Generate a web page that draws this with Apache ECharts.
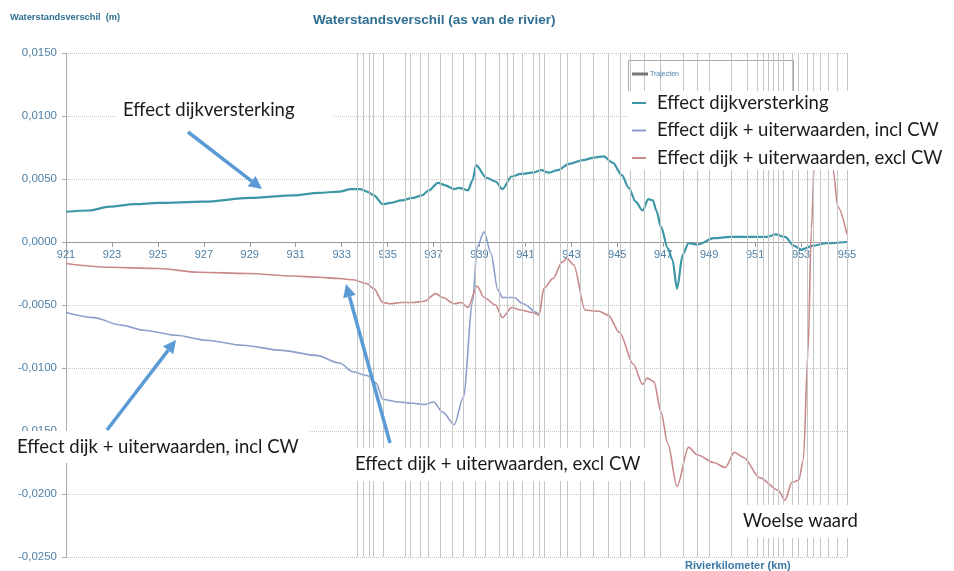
<!DOCTYPE html>
<html>
<head>
<meta charset="utf-8">
<script src="https://cdn.jsdelivr.net/npm/echarts@6/dist/echarts.min.js"></script>
<style>
  html, body { margin: 0; padding: 0; background: #fff; }
  #chart { width: 954px; height: 571px; }
</style>
</head>
<body>
<div id="chart"></div>
<script>
// x-as labels (rivierkilometer) en y-as labels
const xTicks = [921, 923, 925, 927, 929, 931, 933, 935, 937, 939, 941, 943, 945, 947, 949, 951, 953, 955];
const yTicks = [-0.025, -0.02, -0.015, -0.01, -0.005, 0, 0.005, 0.01, 0.015];

// grenzen van de trajecten (verticale lijnen)
const trajectKm = [933.67, 933.93, 934.19, 934.37, 934.8, 935.76, 935.98, 936.41, 936.76, 937.28,
  937.8, 938.28, 938.81, 939.24, 939.85, 940.2, 940.46, 940.85, 941.33, 941.59, 941.81, 942.51,
  942.81, 943.38, 943.94, 944.6, 945.12, 945.55, 946.16, 946.86, 947.86, 948.47, 948.99, 949.95,
  950.65, 951.08, 951.34, 951.56, 951.78, 952.0, 952.21, 952.61, 952.87, 953.26, 953.52, 953.83,
  954.17, 954.57, 955.0];

// Effect dijkversterking
const dijkKm = [921, 922, 922.9, 924, 925, 927, 929, 930.9, 932, 932.9, 933.4, 933.8, 934.1, 934.4,
  934.8, 935.1, 935.6, 936.1, 936.5, 936.8, 937.2, 937.5, 937.9, 938.1, 938.5, 938.7, 938.85, 939.3,
  939.7, 940, 940.4, 940.8, 941.3, 941.7, 942, 942.4, 942.9, 943.5, 944, 944.4, 944.8, 945.2, 945.5,
  945.8, 946.1, 946.35, 946.55, 946.7, 946.9, 947.2, 947.4, 947.6, 947.85, 948.1, 948.5, 949.2,
  949.9, 950.9, 951.5, 951.9, 952.3, 952.7, 953, 953.5, 954.1, 955];
const dijkVal = [0.0024, 0.0025, 0.0028, 0.0030, 0.0031, 0.0032, 0.0035, 0.0037, 0.0039, 0.0040,
  0.0042, 0.0042, 0.0040, 0.0037, 0.0030, 0.0031, 0.0033, 0.0035, 0.0037, 0.0041, 0.0047, 0.0045,
  0.0042, 0.0043, 0.0041, 0.0049, 0.0061, 0.0051, 0.0048, 0.0042, 0.0052, 0.0054, 0.0055, 0.0057,
  0.0055, 0.0057, 0.0062, 0.0065, 0.0067, 0.0068, 0.0063, 0.0053, 0.0043, 0.0032, 0.0025, 0.0034,
  0.0033, 0.0025, 0.0012, -0.0005, -0.0014, -0.0037, -0.0010, -0.0001, -0.0002, 0.0003, 0.0004,
  0.0004, 0.0004, 0.0006, 0.0004, -0.0003, -0.0006, -0.0003, -0.0001, 0.0000];

// Effect dijk + uiterwaarden, incl CW
const inclKm = [921, 922.2, 923.4, 924.4, 925.8, 927.1, 928.7, 930.4, 931.9, 932.9, 933.5, 934.1,
  934.5, 934.8, 935.5, 936.1, 936.6, 937, 937.4, 937.9, 938.3, 938.7, 938.9, 939.2, 939.5, 939.8,
  940, 940.5, 940.9, 941.5, 941.6];
const inclVal = [-0.0056, -0.0060, -0.0066, -0.0070, -0.0074, -0.0078, -0.0082, -0.0086, -0.0090,
  -0.0096, -0.0103, -0.0106, -0.0112, -0.0125, -0.0127, -0.0128, -0.0129, -0.0127, -0.0135, -0.0145,
  -0.0123, -0.0048, -0.0004, 0.0008, -0.0009, -0.0038, -0.0044, -0.0044, -0.0049, -0.0056, -0.0058];

// Effect dijk + uiterwaarden, excl CW
const exclKm = [921, 922.9, 925, 926.8, 928.9, 930.9, 932, 932.9, 933.5, 934.1, 934.4, 934.8, 935.1,
  935.6, 936.1, 936.6, 937.1, 937.4, 937.9, 938.2, 938.5, 938.9, 939.2, 939.7, 940, 940.4, 940.8,
  941.3, 941.6, 941.8, 942.2, 942.6, 942.8, 943.1, 943.6, 944.2, 944.6, 945.1, 945.7, 946.1, 946.3,
  946.6, 946.9, 947.2, 947.6, 948.1, 948.5, 949.2, 949.7, 950.1, 950.5, 951.2, 952, 952.3, 952.6,
  952.9, 953.1, 953.3, 953.45, 953.6, 953.85, 954.15, 954.4, 954.6, 955];
const exclVal = [-0.0017, -0.0020, -0.0021, -0.0024, -0.0025, -0.0027, -0.0028, -0.0029, -0.0030,
  -0.0033, -0.0037, -0.0048, -0.0049, -0.0048, -0.0048, -0.0047, -0.0041, -0.0044, -0.0049, -0.0048,
  -0.0052, -0.0035, -0.0044, -0.0050, -0.0060, -0.0052, -0.0054, -0.0056, -0.0058, -0.0037, -0.0029,
  -0.0016, -0.0013, -0.0018, -0.0054, -0.0055, -0.0058, -0.0072, -0.0097, -0.0113, -0.0108, -0.0111,
  -0.0135, -0.0160, -0.0194, -0.0163, -0.0169, -0.0175, -0.0179, -0.0167, -0.0171, -0.0187, -0.0197,
  -0.0205, -0.0191, -0.0189, -0.0173, -0.0088, 0.0010, 0.0075, 0.0115, 0.0105, 0.0057, 0.0028, 0.0006];

const pairs = (xs, ys) => xs.map((x, i) => [x, ys[i]]);

const tickColor = '#4f80a6';
const textFont = 'Lato, "Open Sans", sans-serif';
const gridTop = 53, gridBottom = 14, chartH = 571;
// x-as ligt op y = 0: afstand vanaf de onderkant van het plotgebied
const zeroOffset = (chartH - gridTop - gridBottom) * (0 - yTicks[0]) / (yTicks[yTicks.length - 1] - yTicks[0]);

// pijl voor de annotaties
function arrow(x1, y1, x2, y2) {
  const a = Math.atan2(y2 - y1, x2 - x1);
  const L = 13, W = 6.5;
  const bx = x2 - L * Math.cos(a), by = y2 - L * Math.sin(a);
  return [
    { type: 'line', z: 30, shape: { x1: x1, y1: y1, x2: bx, y2: by },
      style: { stroke: '#5b9bd5', lineWidth: 3.5 } },
    { type: 'polygon', z: 30,
      shape: { points: [[x2, y2], [bx + W * Math.sin(a), by - W * Math.cos(a)], [bx - W * Math.sin(a), by + W * Math.cos(a)]] },
      style: { fill: '#5b9bd5' } }
  ];
}

function note(x, y, w, h, tx, text) {
  return [
    { type: 'rect', z: 20, shape: { x: x, y: y, width: w, height: h }, style: { fill: '#fff' } },
    { type: 'text', z: 21, style: { text: text, x: tx, y: y + h / 2, font: '18.5px ' + textFont,
      fill: '#1a1a1a', verticalAlign: 'middle' } }
  ];
}

const chart = echarts.init(document.getElementById('chart'));
const option = {
  backgroundColor: '#fff',
  animation: false,
  title: {
    text: 'Waterstandsverschil (as van de rivier)',
    left: 308, top: 8,
    textStyle: { fontSize: 13.5, fontWeight: 'bold', color: '#2f6f93', fontFamily: '"Liberation Sans", Arial' }
  },
  legend: {
    data: ['Effect dijkversterking', 'Effect dijk + uiterwaarden, incl CW', 'Effect dijk + uiterwaarden, excl CW'],
    orient: 'vertical',
    left: 628, top: 91,
    z: 10,
    padding: [2, 4, 2, 4],
    backgroundColor: '#fff',
    itemGap: 7.5,
    icon: 'rect',
    itemWidth: 14, itemHeight: 2,
    textStyle: { fontSize: 18.5, lineHeight: 20, color: '#1a1a1a', fontFamily: textFont, padding: [0, 0, 0, 6] }
  },
  grid: { left: 66, right: 107, top: gridTop, bottom: gridBottom, containLabel: false, outerBoundsMode: 'none' },
  xAxis: {
    type: 'value',
    min: 921, max: 955,
    offset: -zeroOffset,
    axisLine: { onZero: false, lineStyle: { color: '#999', width: 1 } },
    axisTick: { show: true, customValues: xTicks, length: 5, lineStyle: { color: '#999' } },
    axisLabel: { customValues: xTicks, color: tickColor, fontSize: 11, margin: 7,
      fontFamily: '"Liberation Sans", Arial' },
    splitLine: { show: false }
  },
  yAxis: {
    type: 'value',
    min: yTicks[0], max: yTicks[yTicks.length - 1], interval: 0.005,
    axisLine: { show: true, lineStyle: { color: '#aaa', width: 1 } },
    axisTick: { show: true, length: 4, lineStyle: { color: '#aaa' } },
    axisLabel: { color: tickColor, fontSize: 11.5, margin: 9, fontFamily: '"Liberation Sans", Arial',
      formatter: v => v.toFixed(4).replace('.', ',') },
    splitLine: { show: true, lineStyle: { color: '#c4c4c4', type: 'dotted', width: 1 } }
  },
  series: [
    {
      name: 'Trajecten', type: 'line', data: [], silent: true, z: 1,
      markLine: {
        silent: true, symbol: 'none', animation: false,
        label: { show: false },
        lineStyle: { color: '#c6c6c6', width: 1, type: 'solid' },
        data: trajectKm.map(k => ({ xAxis: k }))
      }
    },
    {
      name: 'Effect dijkversterking', type: 'line', data: pairs(dijkKm, dijkVal),
      showSymbol: false, smooth: 0.3, smoothMonotone: 'x', z: 3,
      color: '#3d97a6', lineStyle: { width: 2.2, color: '#3d97a6' }
    },
    {
      name: 'Effect dijk + uiterwaarden, incl CW', type: 'line', data: pairs(inclKm, inclVal),
      showSymbol: false, smooth: 0.3, smoothMonotone: 'x', z: 3,
      color: '#8c9fcb', lineStyle: { width: 1.6, color: '#8c9fcb' }
    },
    {
      name: 'Effect dijk + uiterwaarden, excl CW', type: 'line', data: pairs(exclKm, exclVal),
      showSymbol: false, smooth: 0.3, smoothMonotone: 'x', z: 3,
      color: '#c9898b', lineStyle: { width: 1.6, color: '#c9898b' }
    }
  ],
  graphic: [
    { type: 'text', z: 20, style: { text: 'Waterstandsverschil  (m)', x: 10, y: 17, verticalAlign: 'middle',
      font: 'bold 9.3px "Liberation Sans", Arial', fill: '#2f6f93' } },
    { type: 'text', z: 20, style: { text: 'Rivierkilometer (km)', x: 685, y: 566, verticalAlign: 'middle',
      font: 'bold 11px "Liberation Sans", Arial', fill: '#3a78a6' } },
    // legendakader met "Trajecten"
    { type: 'rect', z: 5, shape: { x: 628.5, y: 60.5, width: 165, height: 108 },
      style: { fill: '#fff', stroke: '#aaa', lineWidth: 1 } },
    { type: 'line', z: 6, shape: { x1: 632, y1: 74, x2: 648, y2: 74 }, style: { stroke: '#777', lineWidth: 3 } },
    { type: 'text', z: 6, style: { text: 'Trajecten', x: 650, y: 74, verticalAlign: 'middle',
      font: '7px "Liberation Sans", Arial', fill: '#4f80a6' } },
    ...note(115, 95, 218, 30, 123, 'Effect dijkversterking'),
    ...note(0, 431, 310, 32, 17, 'Effect dijk + uiterwaarden, incl CW'),
    ...note(350, 448, 295, 33, 355, 'Effect dijk + uiterwaarden, excl CW'),
    ...note(738, 505, 122, 33, 743, 'Woelse waard'),
    ...arrow(188, 132, 262, 189),
    ...arrow(107, 430, 176, 340),
    ...arrow(390, 443, 346, 284)
  ]
};
chart.setOption(option);
</script>
</body>
</html>
